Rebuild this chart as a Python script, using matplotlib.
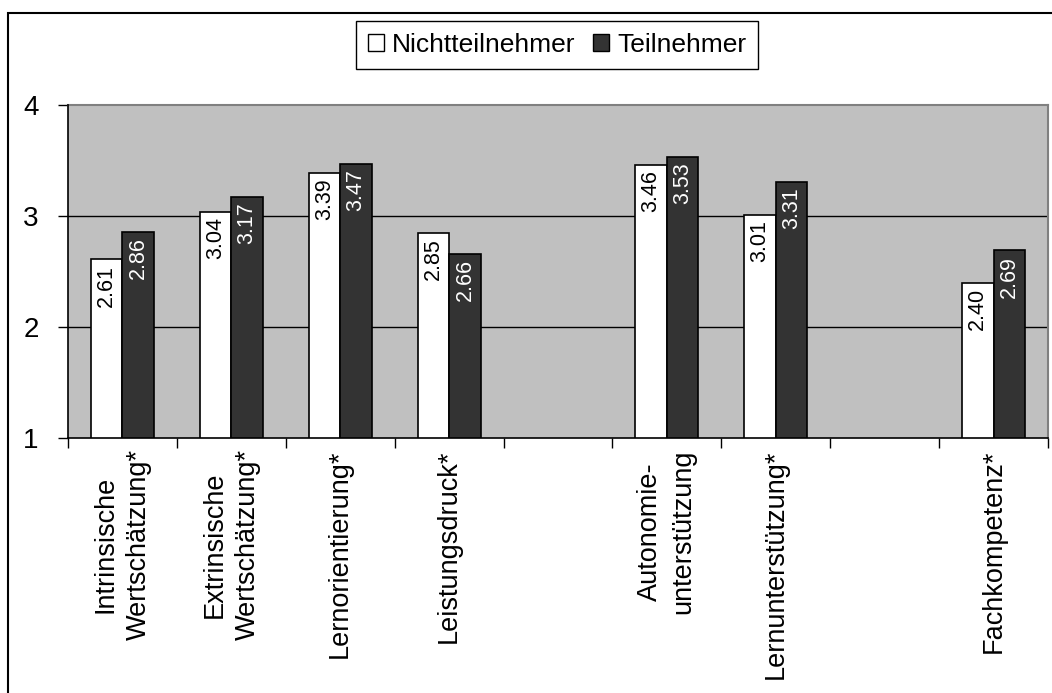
import numpy as np
import matplotlib
matplotlib.use("Agg")
import matplotlib.pyplot as plt
from matplotlib.patches import Patch, Rectangle

plt.rcParams['font.family'] = ['Liberation Sans', 'DejaVu Sans']

categories = ["Intrinsische\nWertschätzung*", "Extrinsische\nWertschätzung*",
              "Lernorientierung*", "Leistungsdruck*", "",
              "Autonomie-\nunterstützung", "Lernunterstützung*", "",
              "Fachkompetenz*"]
nicht = [2.61, 3.04, 3.39, 2.85, np.nan, 3.46, 3.01, np.nan, 2.40]
teil = [2.86, 3.17, 3.47, 2.66, np.nan, 3.53, 3.31, np.nan, 2.69]
series_names = ["Nichtteilnehmer", "Teilnehmer"]
yticks = [1, 2, 3, 4]

W, H = 1052, 693
fig = plt.figure(figsize=(W / 100, H / 100), dpi=100)
ax = fig.add_axes([68 / W, 1 - 438 / H, (1048 - 68) / W, (438 - 105) / H])
ax.set_facecolor('#C0C0C0')

x = np.arange(len(categories))
bw = 0.29
ax.bar(x - bw / 2, nicht, bw, bottom=0, color='white', edgecolor='black', linewidth=1.2, zorder=3)
ax.bar(x + bw / 2, teil, bw, bottom=0, color='#333333', edgecolor='black', linewidth=1.2, zorder=3)

for xi, v in zip(x - bw / 2, nicht):
    if not np.isnan(v):
        ax.annotate(f"{v:.2f}", (xi, v), xytext=(0, -4), textcoords='offset points',
                    rotation=90, ha='center', va='top', fontsize=15.5, color='black', zorder=4)
for xi, v in zip(x + bw / 2, teil):
    if not np.isnan(v):
        ax.annotate(f"{v:.2f}", (xi, v), xytext=(0, -4), textcoords='offset points',
                    rotation=90, ha='center', va='top', fontsize=15.5, color='white', zorder=4)

ax.set_ylim(1, 4)
ax.set_xlim(-0.5, len(categories) - 0.5)
ax.set_yticks(yticks)
ax.set_yticklabels([str(t) for t in yticks], fontsize=20)
for t in [2, 3]:
    ax.axhline(t, color='black', linewidth=1, zorder=2)

ax.set_xticks(x)
ax.set_xticklabels(categories, rotation=90, fontsize=19.5, ha='center', va='top',
                   multialignment='center', linespacing=1.35)
ax.set_xticks(np.arange(-0.5, len(categories)), minor=True)
ax.tick_params(axis='x', which='major', length=0, pad=8)
ax.tick_params(axis='x', which='minor', length=7, width=1, direction='out', color='black')
ax.tick_params(axis='y', length=7, width=1, direction='out', pad=14)

for s in ['left', 'bottom']:
    ax.spines[s].set_color('black')
    ax.spines[s].set_linewidth(1.2)
for s in ['top', 'right']:
    ax.spines[s].set_color('#808080')
    ax.spines[s].set_linewidth(1.5)
ax.spines['left'].set_zorder(5)
ax.spines['bottom'].set_zorder(5)

handles = [Patch(facecolor='white', edgecolor='black', linewidth=1),
           Patch(facecolor='#333333', edgecolor='black', linewidth=1)]
leg = fig.legend(handles, series_names, loc='center', bbox_to_anchor=(557 / W, 1 - 45 / H),
                 ncol=2, fontsize=19, frameon=True, fancybox=False, framealpha=1,
                 edgecolor='black', handlelength=0.6, handleheight=0.6, handletextpad=0.3,
                 columnspacing=0.7, borderpad=0.45, borderaxespad=0)
leg.get_frame().set_linewidth(1)

fig.add_artist(Rectangle((8 / W, -0.05), 1.1, (1 - 13 / H) + 0.05, transform=fig.transFigure,
                         fill=False, edgecolor='black', linewidth=1.5))

fig.savefig("out.png", dpi=100)
